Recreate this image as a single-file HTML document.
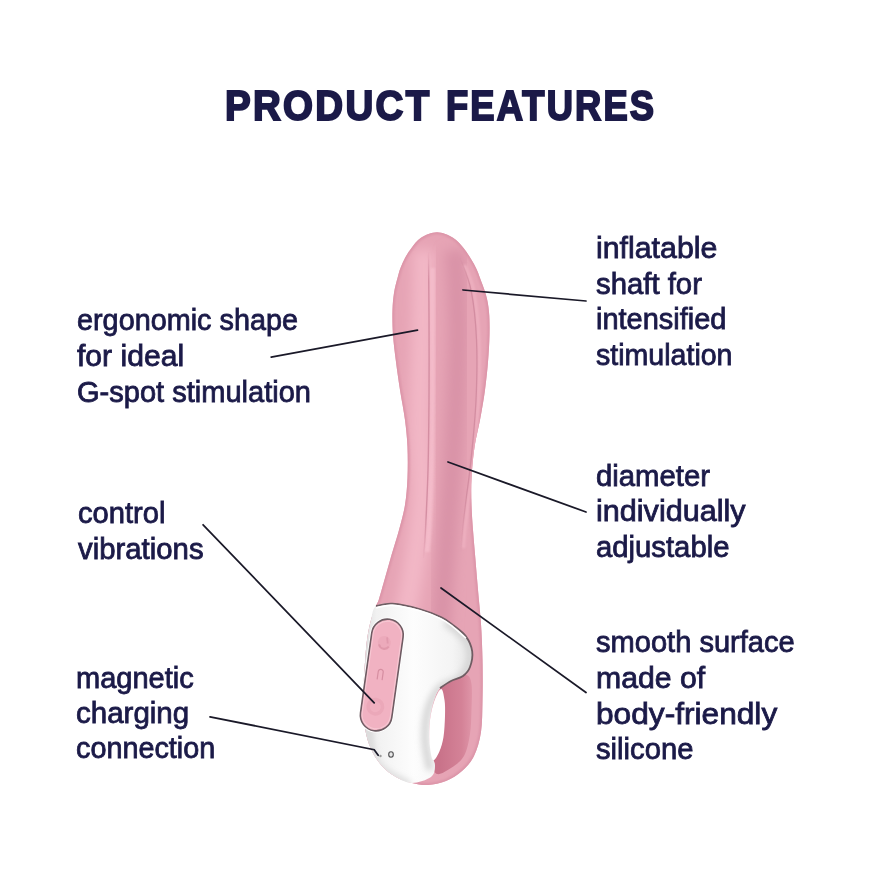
<!DOCTYPE html>
<html><head><meta charset="utf-8">
<style>
html,body{margin:0;padding:0;background:#fff;}
body{width:880px;height:880px;position:relative;overflow:hidden;font-family:"Liberation Sans",sans-serif;color:#1b1a48;}
.t{position:absolute;white-space:nowrap;font-size:29px;line-height:29px;transform-origin:0 0;-webkit-text-stroke:0.8px #1b1a48;}
.h{position:absolute;white-space:nowrap;font-weight:bold;font-size:42px;line-height:42px;transform-origin:0 0;-webkit-text-stroke:2px #1b1a48;}
svg{position:absolute;left:0;top:0;}
</style></head><body>
<svg width="880" height="880" viewBox="0 0 880 880">
<defs>
<clipPath id="cb"><path d="M 437.0 232.3 C 442.3 232.3 448.6 235.2 453.0 237.8 C 457.4 240.4 460.5 244.5 463.5 248.0 C 466.5 251.5 468.8 255.5 471.0 259.0 C 473.2 262.5 475.0 265.8 476.5 269.0 C 478.0 272.2 478.4 273.7 480.0 278.0 C 481.6 282.3 484.5 289.3 486.0 295.0 C 487.5 300.7 488.4 305.3 489.0 312.0 C 489.6 318.7 489.7 326.7 489.5 335.0 C 489.3 343.3 488.8 352.8 488.0 362.0 C 487.2 371.2 486.3 380.3 485.0 390.0 C 483.7 399.7 481.8 410.5 480.0 420.0 C 478.2 429.5 475.9 437.3 474.5 447.0 C 473.1 456.7 472.0 468.3 471.5 478.0 C 471.0 487.7 471.2 496.3 471.5 505.0 C 471.8 513.7 472.3 520.8 473.0 530.0 C 473.7 539.2 474.7 550.0 475.5 560.0 C 476.3 570.0 477.1 579.3 478.0 590.0 C 478.9 600.7 480.2 612.3 481.0 624.0 C 481.8 635.7 482.2 647.3 482.5 660.0 C 482.8 672.7 482.8 688.0 482.5 700.0 C 482.2 712.0 482.4 722.7 481.0 732.0 C 479.6 741.3 477.2 749.5 474.0 756.0 C 470.8 762.5 466.7 766.8 462.0 771.0 C 457.3 775.2 451.7 778.7 446.0 781.0 C 440.3 783.3 433.7 784.7 428.0 785.0 C 422.3 785.3 417.3 784.3 412.0 783.0 C 406.7 781.7 401.0 779.8 396.0 777.0 C 391.0 774.2 386.2 770.7 382.0 766.0 C 377.8 761.3 373.8 755.3 371.0 749.0 C 368.2 742.7 366.3 736.2 365.0 728.0 C 363.7 719.8 363.1 709.7 363.0 700.0 C 362.9 690.3 363.8 680.0 364.5 670.0 C 365.2 660.0 365.9 648.3 367.0 640.0 C 368.1 631.7 369.5 625.7 371.0 620.0 C 372.5 614.3 374.7 609.5 376.0 606.0 C 377.3 602.5 377.5 603.7 379.0 599.0 C 380.5 594.3 382.9 585.3 385.0 578.0 C 387.1 570.7 389.2 563.0 391.5 555.0 C 393.8 547.0 396.8 538.3 399.0 530.0 C 401.2 521.7 403.6 513.7 405.0 505.0 C 406.4 496.3 407.1 487.7 407.5 478.0 C 407.9 468.3 407.9 456.7 407.5 447.0 C 407.1 437.3 406.2 429.5 405.0 420.0 C 403.8 410.5 401.5 399.7 400.0 390.0 C 398.5 380.3 397.2 371.2 396.0 362.0 C 394.8 352.8 393.6 343.7 393.0 335.0 C 392.4 326.3 392.3 317.0 392.5 310.0 C 392.7 303.0 393.2 298.3 394.0 293.0 C 394.8 287.7 396.4 282.2 397.5 278.0 C 398.6 273.8 399.2 271.3 400.5 268.0 C 401.8 264.7 403.2 261.3 405.0 258.0 C 406.8 254.7 408.8 251.4 411.5 248.0 C 414.2 244.6 416.8 240.4 421.0 237.8 C 425.2 235.2 431.7 232.3 437.0 232.3 Z"/></clipPath>
<clipPath id="cw"><path d="M 376.0 606.0 C 379.6 603.3 385.1 603.1 392.3 603.6 C 399.6 604.1 411.3 606.7 419.5 609.0 C 427.7 611.3 435.7 614.5 441.4 617.3 C 447.1 620.0 449.5 622.3 453.6 625.5 C 457.7 628.7 462.8 632.1 465.9 636.4 C 469.0 640.7 471.5 646.3 472.2 651.4 C 472.9 656.5 471.5 662.9 470.0 667.0 C 468.5 671.1 466.2 673.7 463.0 676.0 C 459.8 678.3 454.8 679.0 451.0 681.0 C 447.2 683.0 442.8 684.8 440.0 688.0 C 437.2 691.2 435.7 695.0 434.0 700.0 C 432.3 705.0 430.8 711.7 430.0 718.0 C 429.2 724.3 429.2 731.8 429.5 738.0 C 429.8 744.2 431.1 750.3 432.0 755.0 C 432.9 759.7 435.2 762.3 435.0 766.0 C 434.8 769.7 434.8 774.2 431.0 777.0 C 427.2 779.8 417.8 783.0 412.0 783.0 C 406.2 783.0 401.0 779.8 396.0 777.0 C 391.0 774.2 386.2 770.7 382.0 766.0 C 377.8 761.3 373.8 755.3 371.0 749.0 C 368.2 742.7 366.3 736.2 365.0 728.0 C 363.7 719.8 363.1 709.7 363.0 700.0 C 362.9 690.3 363.8 680.0 364.5 670.0 C 365.2 660.0 365.9 648.3 367.0 640.0 C 368.1 631.7 369.5 625.7 371.0 620.0 C 372.5 614.3 372.4 608.7 376.0 606.0 Z"/></clipPath>
<filter id="b6" x="-50%" y="-50%" width="200%" height="200%"><feGaussianBlur stdDeviation="6"/></filter>
<filter id="b3" x="-50%" y="-50%" width="200%" height="200%"><feGaussianBlur stdDeviation="3"/></filter>
<filter id="bh" x="-50%" y="-50%" width="200%" height="200%"><feGaussianBlur stdDeviation="0.5"/></filter>
<filter id="b1" x="-50%" y="-50%" width="200%" height="200%"><feGaussianBlur stdDeviation="1"/></filter>
<linearGradient id="gfl" x1="0" y1="250" x2="0" y2="562" gradientUnits="userSpaceOnUse">
<stop offset="0" stop-color="#d48ea2" stop-opacity="0"/>
<stop offset="0.1" stop-color="#d48ea2" stop-opacity="1"/>
<stop offset="0.85" stop-color="#d48ea2" stop-opacity="1"/>
<stop offset="1" stop-color="#d48ea2" stop-opacity="0"/>
</linearGradient>
<linearGradient id="gfr" x1="0" y1="250" x2="0" y2="555" gradientUnits="userSpaceOnUse">
<stop offset="0" stop-color="#d38da1" stop-opacity="0"/>
<stop offset="0.12" stop-color="#d38da1" stop-opacity="1"/>
<stop offset="0.8" stop-color="#d38da1" stop-opacity="1"/>
<stop offset="1" stop-color="#d38da1" stop-opacity="0"/>
</linearGradient>
<linearGradient id="gw" x1="363" y1="0" x2="475" y2="0" gradientUnits="userSpaceOnUse">
<stop offset="0" stop-color="#dcdcdd"/>
<stop offset="0.12" stop-color="#f1f1f1"/>
<stop offset="0.45" stop-color="#fdfdfd"/>
<stop offset="0.8" stop-color="#f4f4f4"/>
<stop offset="1" stop-color="#e2e2e2"/>
</linearGradient>
<linearGradient id="gd" x1="440" y1="0" x2="476" y2="0" gradientUnits="userSpaceOnUse">
<stop offset="0" stop-color="#c9738a"/>
<stop offset="0.6" stop-color="#d48297"/>
<stop offset="1" stop-color="#e39cae"/>
</linearGradient>
</defs>
<path d="M 437.0 232.3 C 442.3 232.3 448.6 235.2 453.0 237.8 C 457.4 240.4 460.5 244.5 463.5 248.0 C 466.5 251.5 468.8 255.5 471.0 259.0 C 473.2 262.5 475.0 265.8 476.5 269.0 C 478.0 272.2 478.4 273.7 480.0 278.0 C 481.6 282.3 484.5 289.3 486.0 295.0 C 487.5 300.7 488.4 305.3 489.0 312.0 C 489.6 318.7 489.7 326.7 489.5 335.0 C 489.3 343.3 488.8 352.8 488.0 362.0 C 487.2 371.2 486.3 380.3 485.0 390.0 C 483.7 399.7 481.8 410.5 480.0 420.0 C 478.2 429.5 475.9 437.3 474.5 447.0 C 473.1 456.7 472.0 468.3 471.5 478.0 C 471.0 487.7 471.2 496.3 471.5 505.0 C 471.8 513.7 472.3 520.8 473.0 530.0 C 473.7 539.2 474.7 550.0 475.5 560.0 C 476.3 570.0 477.1 579.3 478.0 590.0 C 478.9 600.7 480.2 612.3 481.0 624.0 C 481.8 635.7 482.2 647.3 482.5 660.0 C 482.8 672.7 482.8 688.0 482.5 700.0 C 482.2 712.0 482.4 722.7 481.0 732.0 C 479.6 741.3 477.2 749.5 474.0 756.0 C 470.8 762.5 466.7 766.8 462.0 771.0 C 457.3 775.2 451.7 778.7 446.0 781.0 C 440.3 783.3 433.7 784.7 428.0 785.0 C 422.3 785.3 417.3 784.3 412.0 783.0 C 406.7 781.7 401.0 779.8 396.0 777.0 C 391.0 774.2 386.2 770.7 382.0 766.0 C 377.8 761.3 373.8 755.3 371.0 749.0 C 368.2 742.7 366.3 736.2 365.0 728.0 C 363.7 719.8 363.1 709.7 363.0 700.0 C 362.9 690.3 363.8 680.0 364.5 670.0 C 365.2 660.0 365.9 648.3 367.0 640.0 C 368.1 631.7 369.5 625.7 371.0 620.0 C 372.5 614.3 374.7 609.5 376.0 606.0 C 377.3 602.5 377.5 603.7 379.0 599.0 C 380.5 594.3 382.9 585.3 385.0 578.0 C 387.1 570.7 389.2 563.0 391.5 555.0 C 393.8 547.0 396.8 538.3 399.0 530.0 C 401.2 521.7 403.6 513.7 405.0 505.0 C 406.4 496.3 407.1 487.7 407.5 478.0 C 407.9 468.3 407.9 456.7 407.5 447.0 C 407.1 437.3 406.2 429.5 405.0 420.0 C 403.8 410.5 401.5 399.7 400.0 390.0 C 398.5 380.3 397.2 371.2 396.0 362.0 C 394.8 352.8 393.6 343.7 393.0 335.0 C 392.4 326.3 392.3 317.0 392.5 310.0 C 392.7 303.0 393.2 298.3 394.0 293.0 C 394.8 287.7 396.4 282.2 397.5 278.0 C 398.6 273.8 399.2 271.3 400.5 268.0 C 401.8 264.7 403.2 261.3 405.0 258.0 C 406.8 254.7 408.8 251.4 411.5 248.0 C 414.2 244.6 416.8 240.4 421.0 237.8 C 425.2 235.2 431.7 232.3 437.0 232.3 Z" fill="#e6a4b5"/>
<g clip-path="url(#cb)">
 <path d="M 424.0 250.0 C 423.8 261.7 423.7 291.7 423.0 320.0 C 422.3 348.3 420.2 390.0 420.0 420.0 C 419.8 450.0 423.3 473.3 422.0 500.0 C 420.7 526.7 415.7 556.7 412.0 580.0 C 408.3 603.3 402.0 630.0 400.0 640.0 " stroke="#f2b7c6" stroke-width="22" fill="none" filter="url(#b6)"/>
 <path d="M 455.0 250.0 C 455.5 263.3 458.0 301.7 458.0 330.0 C 458.0 358.3 456.3 391.7 455.0 420.0 C 453.7 448.3 451.8 473.3 450.0 500.0 C 448.2 526.7 445.7 556.7 444.0 580.0 C 442.3 603.3 440.7 630.0 440.0 640.0 " stroke="#d993a7" stroke-width="20" fill="none" filter="url(#b6)"/>
 <path d="M 437.0 232.3 C 442.3 232.3 448.6 235.2 453.0 237.8 C 457.4 240.4 460.5 244.5 463.5 248.0 C 466.5 251.5 468.8 255.5 471.0 259.0 C 473.2 262.5 475.0 265.8 476.5 269.0 C 478.0 272.2 478.4 273.7 480.0 278.0 C 481.6 282.3 484.5 289.3 486.0 295.0 C 487.5 300.7 488.4 305.3 489.0 312.0 C 489.6 318.7 489.7 326.7 489.5 335.0 C 489.3 343.3 488.8 352.8 488.0 362.0 C 487.2 371.2 486.3 380.3 485.0 390.0 C 483.7 399.7 481.8 410.5 480.0 420.0 C 478.2 429.5 475.9 437.3 474.5 447.0 C 473.1 456.7 472.0 468.3 471.5 478.0 C 471.0 487.7 471.2 496.3 471.5 505.0 C 471.8 513.7 472.3 520.8 473.0 530.0 C 473.7 539.2 474.7 550.0 475.5 560.0 C 476.3 570.0 477.1 579.3 478.0 590.0 C 478.9 600.7 480.2 612.3 481.0 624.0 C 481.8 635.7 482.2 647.3 482.5 660.0 C 482.8 672.7 482.8 688.0 482.5 700.0 C 482.2 712.0 482.4 722.7 481.0 732.0 C 479.6 741.3 477.2 749.5 474.0 756.0 C 470.8 762.5 466.7 766.8 462.0 771.0 C 457.3 775.2 451.7 778.7 446.0 781.0 C 440.3 783.3 433.7 784.7 428.0 785.0 C 422.3 785.3 417.3 784.3 412.0 783.0 C 406.7 781.7 401.0 779.8 396.0 777.0 C 391.0 774.2 386.2 770.7 382.0 766.0 C 377.8 761.3 373.8 755.3 371.0 749.0 C 368.2 742.7 366.3 736.2 365.0 728.0 C 363.7 719.8 363.1 709.7 363.0 700.0 C 362.9 690.3 363.8 680.0 364.5 670.0 C 365.2 660.0 365.9 648.3 367.0 640.0 C 368.1 631.7 369.5 625.7 371.0 620.0 C 372.5 614.3 374.7 609.5 376.0 606.0 C 377.3 602.5 377.5 603.7 379.0 599.0 C 380.5 594.3 382.9 585.3 385.0 578.0 C 387.1 570.7 389.2 563.0 391.5 555.0 C 393.8 547.0 396.8 538.3 399.0 530.0 C 401.2 521.7 403.6 513.7 405.0 505.0 C 406.4 496.3 407.1 487.7 407.5 478.0 C 407.9 468.3 407.9 456.7 407.5 447.0 C 407.1 437.3 406.2 429.5 405.0 420.0 C 403.8 410.5 401.5 399.7 400.0 390.0 C 398.5 380.3 397.2 371.2 396.0 362.0 C 394.8 352.8 393.6 343.7 393.0 335.0 C 392.4 326.3 392.3 317.0 392.5 310.0 C 392.7 303.0 393.2 298.3 394.0 293.0 C 394.8 287.7 396.4 282.2 397.5 278.0 C 398.6 273.8 399.2 271.3 400.5 268.0 C 401.8 264.7 403.2 261.3 405.0 258.0 C 406.8 254.7 408.8 251.4 411.5 248.0 C 414.2 244.6 416.8 240.4 421.0 237.8 C 425.2 235.2 431.7 232.3 437.0 232.3 Z" stroke="#dc94a8" stroke-width="4" fill="none" filter="url(#b1)"/>
 <path d="M 432.5 268.0 C 432.5 276.7 432.5 298.0 432.5 320.0 C 432.5 342.0 432.7 375.0 432.5 400.0 C 432.3 425.0 432.1 448.3 431.5 470.0 C 430.9 491.7 429.8 516.3 429.0 530.0 C 428.2 543.7 427.3 548.3 427.0 552.0 " stroke="#f6bfcd" stroke-width="5" fill="none" filter="url(#b1)" opacity="0.75"/>
 <path d="M 428.5 252.0 C 428.6 263.3 428.9 295.3 429.0 320.0 C 429.1 344.7 429.2 375.0 429.0 400.0 C 428.8 425.0 428.6 448.3 428.0 470.0 C 427.4 491.7 426.2 515.3 425.5 530.0 C 424.8 544.7 423.8 553.3 423.5 558.0 " stroke="url(#gfl)" stroke-width="1.4" fill="none" filter="url(#bh)"/>
 <path d="M 464.5 265.0 C 466.0 269.2 471.1 277.5 473.5 290.0 C 475.9 302.5 478.2 321.7 479.0 340.0 C 479.8 358.3 479.4 380.0 478.5 400.0 C 477.6 420.0 475.2 443.3 473.5 460.0 C 471.8 476.7 469.9 488.3 468.5 500.0 C 467.1 511.7 465.8 522.0 465.0 530.0 C 464.2 538.0 463.8 545.0 463.5 548.0 " stroke="#eeb0c0" stroke-width="3" fill="none" filter="url(#b1)"/>
 <path d="M 460.0 258.0 C 461.8 263.3 468.2 276.3 471.0 290.0 C 473.8 303.7 475.7 321.7 476.5 340.0 C 477.3 358.3 476.9 380.0 476.0 400.0 C 475.1 420.0 472.7 443.3 471.0 460.0 C 469.3 476.7 467.4 488.3 466.0 500.0 C 464.6 511.7 463.3 521.3 462.5 530.0 C 461.7 538.7 461.2 548.3 461.0 552.0 " stroke="url(#gfr)" stroke-width="1.3" fill="none" filter="url(#bh)"/>
</g>
<path d="M 440.0 688.0 C 441.2 684.8 446.7 683.2 451.0 681.0 C 455.3 678.8 462.6 674.5 466.0 675.0 C 469.4 675.5 470.6 678.2 471.5 684.0 C 472.4 689.8 471.8 701.7 471.5 710.0 C 471.2 718.3 471.2 726.3 470.0 734.0 C 468.8 741.7 467.2 750.3 464.0 756.0 C 460.8 761.7 455.5 765.0 451.0 768.0 C 446.5 771.0 440.2 775.0 437.0 774.0 C 433.8 773.0 431.5 766.0 432.0 762.0 C 432.5 758.0 438.0 756.3 440.0 750.0 C 442.0 743.7 443.3 732.3 444.0 724.0 C 444.7 715.7 444.7 706.0 444.0 700.0 C 443.3 694.0 438.8 691.2 440.0 688.0 Z" fill="url(#gd)"/>
<path d="M 376.0 606.0 C 379.6 603.3 385.1 603.1 392.3 603.6 C 399.6 604.1 411.3 606.7 419.5 609.0 C 427.7 611.3 435.7 614.5 441.4 617.3 C 447.1 620.0 449.5 622.3 453.6 625.5 C 457.7 628.7 462.8 632.1 465.9 636.4 C 469.0 640.7 471.5 646.3 472.2 651.4 C 472.9 656.5 471.5 662.9 470.0 667.0 C 468.5 671.1 466.2 673.7 463.0 676.0 C 459.8 678.3 454.8 679.0 451.0 681.0 C 447.2 683.0 442.8 684.8 440.0 688.0 C 437.2 691.2 435.7 695.0 434.0 700.0 C 432.3 705.0 430.8 711.7 430.0 718.0 C 429.2 724.3 429.2 731.8 429.5 738.0 C 429.8 744.2 431.1 750.3 432.0 755.0 C 432.9 759.7 435.2 762.3 435.0 766.0 C 434.8 769.7 434.8 774.2 431.0 777.0 C 427.2 779.8 417.8 783.0 412.0 783.0 C 406.2 783.0 401.0 779.8 396.0 777.0 C 391.0 774.2 386.2 770.7 382.0 766.0 C 377.8 761.3 373.8 755.3 371.0 749.0 C 368.2 742.7 366.3 736.2 365.0 728.0 C 363.7 719.8 363.1 709.7 363.0 700.0 C 362.9 690.3 363.8 680.0 364.5 670.0 C 365.2 660.0 365.9 648.3 367.0 640.0 C 368.1 631.7 369.5 625.7 371.0 620.0 C 372.5 614.3 372.4 608.7 376.0 606.0 Z" fill="url(#gw)"/>
<g clip-path="url(#cw)">
 <path d="M 372.0 640.0 C 371.3 650.0 367.5 680.0 368.0 700.0 C 368.5 720.0 368.0 745.8 375.0 760.0 C 382.0 774.2 404.2 780.8 410.0 785.0 " stroke="#d8d8d8" stroke-width="6" fill="none" filter="url(#b3)"/>
 <path d="M 445.0 622.0 C 448.5 625.0 461.8 633.7 466.0 640.0 C 470.2 646.3 471.0 653.7 470.0 660.0 C 469.0 666.3 465.0 673.3 460.0 678.0 C 455.0 682.7 445.3 682.7 440.0 688.0 C 434.7 693.3 430.5 701.3 428.0 710.0 C 425.5 718.7 424.7 730.0 425.0 740.0 C 425.3 750.0 429.2 765.0 430.0 770.0 " stroke="#d4d4d4" stroke-width="7" fill="none" filter="url(#b3)"/>
</g>
<path d="M 376.0 606.0 C 378.7 605.6 385.1 603.1 392.3 603.6 C 399.6 604.1 411.3 606.7 419.5 609.0 C 427.7 611.3 435.7 614.5 441.4 617.3 C 447.1 620.0 449.5 622.3 453.6 625.5 C 457.7 628.7 462.8 632.1 465.9 636.4 C 469.0 640.7 471.5 646.3 472.2 651.4 C 472.9 656.5 471.5 662.9 470.0 667.0 C 468.5 671.1 466.2 673.7 463.0 676.0 C 459.8 678.3 454.8 679.0 451.0 681.0 C 447.2 683.0 441.8 686.8 440.0 688.0 " stroke="#6f5d63" stroke-width="1.8" fill="none"/>
<path d="M 376.0 607.8 C 378.7 607.4 385.1 604.9 392.3 605.4 C 399.6 605.9 411.3 608.5 419.5 610.8 C 427.7 613.1 435.7 616.3 441.4 619.1 C 447.1 621.8 449.5 624.1 453.6 627.3 C 457.7 630.5 463.8 636.4 465.9 638.2 " stroke="#ffffff" stroke-width="1.6" fill="none" opacity="0.95"/>
<path d="M 441.0 689.0 C 442.8 688.7 443.8 695.5 444.5 700.0 C 445.2 704.5 445.2 709.8 445.0 716.0 C 444.8 722.2 444.4 731.2 443.5 737.0 C 442.6 742.8 441.2 747.2 439.5 751.0 C 437.8 754.8 434.7 761.5 433.0 760.0 C 431.3 758.5 430.0 748.7 429.5 742.0 C 429.0 735.3 429.2 726.7 430.0 720.0 C 430.8 713.3 432.2 707.2 434.0 702.0 C 435.8 696.8 439.2 689.3 441.0 689.0 Z" fill="#ffffff"/>
<g transform="translate(381.8 675) rotate(8)">
<rect x="-17.5" y="-58" width="35" height="116" rx="17.5" fill="#fff"/>
<rect x="-15.8" y="-56.3" width="31.6" height="112.6" rx="15.8" fill="#f1b2c2" stroke="#6e5c63" stroke-width="1.6"/>
<rect x="-14.2" y="-54.2" width="28.4" height="108.4" rx="14.2" fill="none" stroke="#f9d3dc" stroke-width="1" opacity="0.7"/>
<circle cx="-2" cy="-32.5" r="6.5" fill="#e9a5b6" opacity="0.6"/>
<path d="M -7 -30 a 5.5 5.5 0 0 0 10 1" stroke="#dc93a6" stroke-width="2" fill="none" opacity="0.8"/>
<path d="M 0 -38 l 1.5 6" stroke="#dc93a6" stroke-width="1.8" fill="none" opacity="0.7"/>
<path d="M -4 5 L -4 -3 a 2.5 2.5 0 0 1 5 0 L 1 5" stroke="#d68ea1" stroke-width="1.2" fill="none"/>
<circle cx="-2" cy="32.3" r="9" fill="#e8a3b4" opacity="0.65"/>
<circle cx="-2" cy="32.3" r="5.5" fill="#f1b2c2" opacity="0.8"/>
</g>
<g stroke="#1a1928" stroke-width="1.75" stroke-linecap="round" fill="none">
<line x1="271.2" y1="357.1" x2="417.5" y2="330.2"/>
<line x1="463" y1="290" x2="586" y2="301"/>
<line x1="448" y1="462" x2="586" y2="512"/>
<line x1="203.1" y1="524.8" x2="374.2" y2="702.8"/>
<line x1="441" y1="588" x2="586" y2="692.5"/>
<polyline points="210,716.8 374.2,749.7 378.2,755.3"/>
</g>
<ellipse cx="391" cy="754.5" rx="2.3" ry="2.7" fill="#e8e8e8" stroke="#505052" stroke-width="1.1"/>
<circle cx="380.5" cy="756" r="1.2" fill="#9a9a9a"/>
</svg>
<div class="t" style="left:77.00px;top:306.40px;transform:scaleX(0.9933)">ergonomic shape</div>
<div class="t" style="left:77.00px;top:342.05px;transform:scaleX(1.0385)">for ideal</div>
<div class="t" style="left:77.00px;top:377.70px;transform:scaleX(1.0011)">G-spot stimulation</div>
<div class="t" style="left:78.00px;top:499.00px;transform:scaleX(1.0046)">control</div>
<div class="t" style="left:78.00px;top:534.80px;transform:scaleX(1.0119)">vibrations</div>
<div class="t" style="left:76.30px;top:663.50px;transform:scaleX(1.0006)">magnetic</div>
<div class="t" style="left:76.30px;top:699.00px;transform:scaleX(1.0175)">charging</div>
<div class="t" style="left:76.30px;top:734.40px;transform:scaleX(0.9925)">connection</div>
<div class="t" style="left:595.50px;top:234.10px;transform:scaleX(1.0454)">inflatable</div>
<div class="t" style="left:595.50px;top:269.50px;transform:scaleX(1.0110)">shaft for</div>
<div class="t" style="left:595.50px;top:305.30px;transform:scaleX(0.9990)">intensified</div>
<div class="t" style="left:595.50px;top:340.80px;transform:scaleX(0.9847)">stimulation</div>
<div class="t" style="left:595.70px;top:461.90px;transform:scaleX(1.0109)">diameter</div>
<div class="t" style="left:595.70px;top:497.30px;transform:scaleX(1.0544)">individually</div>
<div class="t" style="left:595.70px;top:532.50px;transform:scaleX(1.0095)">adjustable</div>
<div class="t" style="left:596.30px;top:628.30px;transform:scaleX(1.0023)">smooth surface</div>
<div class="t" style="left:596.30px;top:663.80px;transform:scaleX(1.0422)">made of</div>
<div class="t" style="left:596.30px;top:699.55px;transform:scaleX(1.0916)">body-friendly</div>
<div class="t" style="left:596.30px;top:734.55px;transform:scaleX(1.0072)">silicone</div>
<div class="h" style="left:224.80px;top:84.94px;letter-spacing:2.5px;transform:scaleX(0.9172)">PRODUCT</div>
<div class="h" style="left:446.00px;top:84.94px;letter-spacing:2.5px;transform:scaleX(0.8640)">FEATURES</div>
</body></html>
